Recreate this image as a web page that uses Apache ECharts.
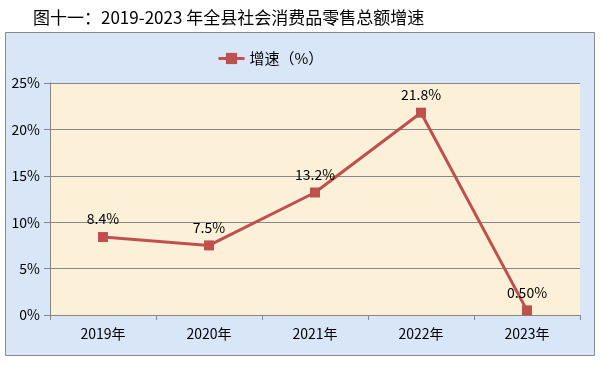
<!DOCTYPE html>
<html>
<head>
<meta charset="utf-8">
<script src="https://cdn.jsdelivr.net/npm/echarts@6/dist/echarts.min.js"></script>
<style>
html,body{margin:0;padding:0;background:#fff;}
#c{width:604px;height:365px;}
</style>
</head>
<body>
<div id="c"></div>
<script>
var titleText = '图十一：2019-2023 年全县社会消费品零售总额增速';
var seriesName = '增速（%）';
var categories = ['2019年', '2020年', '2021年', '2022年', '2023年'];
var growth = [8.4, 7.5, 13.2, 21.8, 0.5];
var pointLabels = ['8.4%', '7.5%', '13.2%', '21.8%', '0.50%'];
var yTicks = { min: 0, max: 25, interval: 5 };

var FONT = '"Noto Sans CJK SC", "Liberation Sans", sans-serif';
var chart = echarts.init(document.getElementById('c'), null, { renderer: 'canvas' });
chart.setOption({
  backgroundColor: '#ffffff',
  animation: false,
  textStyle: { fontFamily: FONT },
  graphic: [
    { type: 'rect', z: -10, shape: { x: 5.5, y: 32.5, width: 589, height: 323 },
      style: { fill: '#d8e6f7', stroke: '#8a8a8a', lineWidth: 1 } },
    { type: 'text', left: 33, top: 9,
      style: { text: titleText, fill: '#000', font: '17px ' + FONT } }
  ],
  legend: {
    top: 46, left: 212,
    itemWidth: 26, itemHeight: 14, itemGap: 6,
    lineStyle: { width: 3 },
    textStyle: { fontSize: 15, color: '#000', fontFamily: FONT },
    data: [{ name: seriesName }]
  },
  grid: {
    left: 50, right: 24, top: 83, bottom: 50,
    show: true, backgroundColor: '#fcf0d8', borderWidth: 0
  },
  xAxis: {
    type: 'category', data: categories, boundaryGap: true,
    axisLine: { lineStyle: { color: '#868686', width: 1 } },
    axisTick: { show: true, length: 5, lineStyle: { color: '#868686' } },
    axisLabel: { color: '#000', fontSize: 14, margin: 12, fontFamily: FONT }
  },
  yAxis: {
    type: 'value', min: yTicks.min, max: yTicks.max, interval: yTicks.interval,
    axisLine: { show: true, lineStyle: { color: '#868686', width: 1 } },
    axisTick: { show: true, length: 6, lineStyle: { color: '#868686' } },
    axisLabel: { formatter: '{value}%', color: '#000', fontSize: 14, margin: 10, fontFamily: FONT },
    splitLine: { show: true, lineStyle: { color: '#868686', width: 1 } }
  },
  series: [{
    name: seriesName, type: 'line', data: growth,
    symbol: 'rect', symbolSize: 10,
    lineStyle: { color: '#c0504d', width: 3 },
    itemStyle: { color: '#c0504d' },
    label: {
      show: true, position: 'top', distance: 6,
      color: '#000', fontSize: 14, fontFamily: FONT,
      formatter: function (p) { return pointLabels[p.dataIndex]; }
    }
  }]
});
</script>
</body>
</html>
